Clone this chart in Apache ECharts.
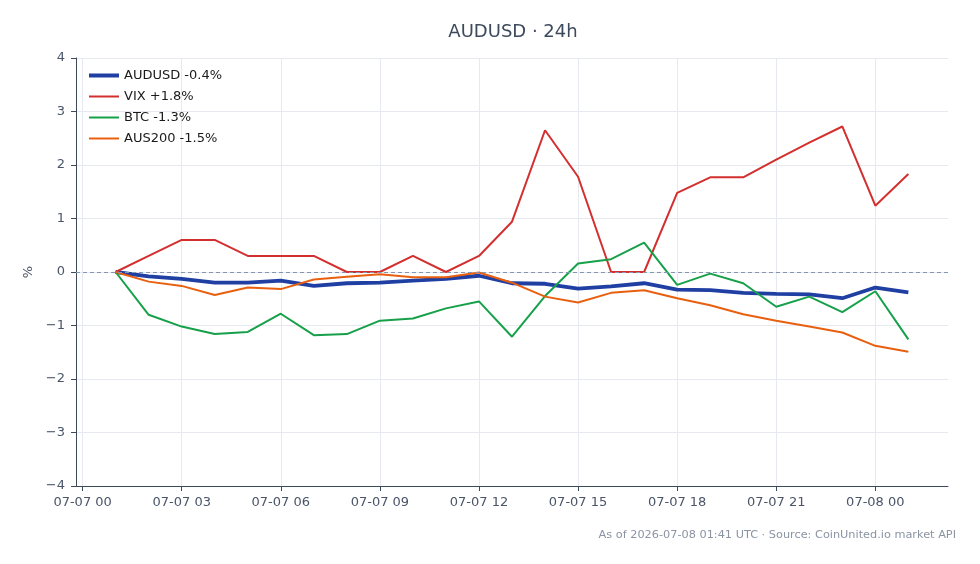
<!DOCTYPE html>
<html>
<head>
<meta charset="utf-8">
<title>AUDUSD · 24h</title>
<script src="https://cdn.jsdelivr.net/npm/echarts@6/dist/echarts.min.js"></script>
<style>
  html, body { margin: 0; padding: 0; background: #fff; }
  #chart { width: 980px; height: 564px; }
</style>
</head>
<body>
<div id="chart"></div>
<script>
// hourly timestamps (UTC)
var times = [
  '2026-07-07T01:00:00Z', '2026-07-07T02:00:00Z', '2026-07-07T03:00:00Z', '2026-07-07T04:00:00Z',
  '2026-07-07T05:00:00Z', '2026-07-07T06:00:00Z', '2026-07-07T07:00:00Z', '2026-07-07T08:00:00Z',
  '2026-07-07T09:00:00Z', '2026-07-07T10:00:00Z', '2026-07-07T11:00:00Z', '2026-07-07T12:00:00Z',
  '2026-07-07T13:00:00Z', '2026-07-07T14:00:00Z', '2026-07-07T15:00:00Z', '2026-07-07T16:00:00Z',
  '2026-07-07T17:00:00Z', '2026-07-07T18:00:00Z', '2026-07-07T19:00:00Z', '2026-07-07T20:00:00Z',
  '2026-07-07T21:00:00Z', '2026-07-07T22:00:00Z', '2026-07-07T23:00:00Z', '2026-07-08T00:00:00Z',
  '2026-07-08T01:00:00Z'
];

// % change since start
var audusd = [0, -0.08, -0.13, -0.2, -0.2, -0.16, -0.26, -0.21, -0.2, -0.16, -0.13, -0.07,
  -0.21, -0.22, -0.31, -0.27, -0.21, -0.33, -0.34, -0.39, -0.41, -0.42, -0.49, -0.29, -0.38];
var vix = [0, 0.3, 0.6, 0.6, 0.3, 0.3, 0.3, 0, 0, 0.3, 0, 0.3,
  0.94, 2.65, 1.78, 0, 0, 1.48, 1.77, 1.77, 2.1, 2.42, 2.72, 1.24, 1.83];
var btc = [0, -0.8, -1.02, -1.16, -1.12, -0.78, -1.18, -1.16, -0.91, -0.87, -0.68, -0.55,
  -1.21, -0.45, 0.16, 0.24, 0.55, -0.24, -0.03, -0.21, -0.65, -0.46, -0.75, -0.36, -1.26];
var aus200 = [0, -0.18, -0.26, -0.43, -0.29, -0.32, -0.14, -0.09, -0.04, -0.1, -0.1, -0.01,
  -0.2, -0.46, -0.57, -0.39, -0.34, -0.49, -0.62, -0.79, -0.91, -1.02, -1.13, -1.38, -1.49];

var seriesNames = ['AUDUSD -0.4%', 'VIX +1.8%', 'BTC -1.3%', 'AUS200 -1.5%'];

var xTicks = [
  '2026-07-07T00:00:00Z', '2026-07-07T03:00:00Z', '2026-07-07T06:00:00Z', '2026-07-07T09:00:00Z',
  '2026-07-07T12:00:00Z', '2026-07-07T15:00:00Z', '2026-07-07T18:00:00Z', '2026-07-07T21:00:00Z',
  '2026-07-08T00:00:00Z'
];
var xMin = '2026-07-06T23:48:00Z';
var xMax = '2026-07-08T02:12:00Z';

var fontName = 'DejaVu Sans';
var axisColor = '#3d4a5c';
var labelColor = '#4a5568';
var gridColor = '#e6eaf0';

function ms(t) { return Date.parse(t); }
function pad(n) { return (n < 10 ? '0' : '') + n; }
function fmtTick(v) {
  var d = new Date(v);
  return pad(d.getUTCMonth() + 1) + '-' + pad(d.getUTCDate()) + ' ' + pad(d.getUTCHours());
}

function lineSeries(name, vals, color, width) {
  return {
    name: name,
    type: 'line',
    data: vals.map(function (v, i) { return [ms(times[i]), v]; }),
    showSymbol: false,
    symbol: 'none',
    color: color,
    lineStyle: { color: color, width: width },
    emphasis: { disabled: true }
  };
}

var chart = echarts.init(document.getElementById('chart'));

var s0 = lineSeries(seriesNames[0], audusd, '#1f3fa3', 3.8);
s0.markLine = {
  silent: true,
  symbol: 'none',
  label: { show: false },
  lineStyle: { color: '#8796b0', type: [4, 3], width: 1 },
  data: [{ yAxis: 0 }]
};

var tickMs = xTicks.map(ms);

chart.setOption({
  animation: false,
  textStyle: { fontFamily: fontName },
  title: {
    text: 'AUDUSD · 24h',
    left: 508,
    top: 18,
    textAlign: 'center',
    textStyle: { fontFamily: fontName, fontSize: 18, fontWeight: 'normal', color: axisColor }
  },
  legend: {
    orient: 'vertical',
    left: 82,
    top: 64,
    itemWidth: 30,
    itemHeight: 14,
    itemGap: 8,
    itemStyle: { opacity: 0 },
    textStyle: { fontFamily: fontName, fontSize: 13, color: '#1a1a1a' },
    data: [
      { name: seriesNames[0], lineStyle: { width: 4 } },
      { name: seriesNames[1], lineStyle: { width: 2 } },
      { name: seriesNames[2], lineStyle: { width: 2 } },
      { name: seriesNames[3], lineStyle: { width: 2 } }
    ]
  },
  grid: { left: 76, right: 32, top: 58, bottom: 78 },
  xAxis: {
    type: 'value',
    min: ms(xMin),
    max: ms(xMax),
    axisLine: { show: true, onZero: false, lineStyle: { color: axisColor, width: 1 } },
    axisTick: { show: true, length: 5, lineStyle: { color: axisColor }, customValues: tickMs },
    axisLabel: {
      customValues: tickMs,
      margin: 10,
      fontFamily: fontName,
      fontSize: 13,
      color: labelColor,
      formatter: fmtTick
    },
    splitLine: { show: true, lineStyle: { color: gridColor, width: 1 } }
  },
  yAxis: {
    type: 'value',
    min: -4,
    max: 4,
    interval: 1,
    name: '%',
    nameLocation: 'middle',
    nameGap: 38,
    nameRotate: 90,
    nameTextStyle: { fontFamily: fontName, fontSize: 13, color: labelColor },
    axisLine: { show: true, lineStyle: { color: axisColor, width: 1 } },
    axisTick: { show: true, length: 5, lineStyle: { color: axisColor } },
    axisLabel: {
      margin: 11,
      fontFamily: fontName,
      fontSize: 13,
      color: labelColor,
      formatter: function (v) { return v < 0 ? '\u2212' + Math.abs(v) : String(v); }
    },
    splitLine: { show: true, lineStyle: { color: gridColor, width: 1 } }
  },
  graphic: [{
    type: 'text',
    right: 24,
    top: 530,
    style: {
      text: 'As of 2026-07-08 01:41 UTC · Source: CoinUnited.io market API',
      fontFamily: fontName,
      fontSize: 11.3,
      fill: '#8a94a3'
    }
  }],
  series: [
    s0,
    lineSeries(seriesNames[1], vix, '#d32f2f', 2),
    lineSeries(seriesNames[2], btc, '#17a04a', 2),
    lineSeries(seriesNames[3], aus200, '#e8600f', 2)
  ]
});
</script>
</body>
</html>
